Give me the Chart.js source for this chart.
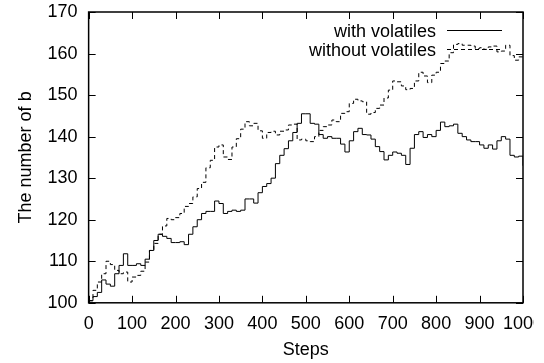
<!DOCTYPE html>
<html>
<head>
    <title>The number of b</title>
    <script src="https://cdn.jsdelivr.net/npm/chart.js"></script>
    <style>
        body { margin: 0; background: #fff; }
        #wrap { width: 534px; height: 363px; overflow: hidden; }
    </style>
</head>
<body>
    <div id="wrap">
        <canvas id="bChart" width="560" height="363"></canvas>
    </div>

    <script>
    // values, one every 10 steps
    const steps = [];
    for (let s = 0; s <= 1000; s += 10) steps.push(s);

    const withVolatiles = [
        100.5, 101.5, 102.5, 105.5, 104.5, 104, 107, 109, 111.8, 109,
        109, 109.4, 109, 110.5, 112.6, 115, 116.5, 116, 115.5, 114.5,
        114.5, 114.7, 114, 116.5, 118.3, 120, 121.5, 122, 122, 124.5,
        123.9, 121.5, 122, 122.3, 122, 122.3, 125, 125, 124, 126.5,
        128, 128.7, 130, 133.5, 135.5, 137.1, 139, 141, 143.2, 145.5,
        145.5, 143.2, 143, 140.5, 139.6, 140, 139.6, 139.6, 138.2, 136.3,
        139, 141.2, 142, 140.5, 140.4, 139.4, 137.6, 136.4, 134.4, 135.5,
        136.3, 136, 135.5, 133.3, 137.2, 140.5, 141.2, 139.8, 140.5, 140,
        141.5, 143.5, 142.4, 142.6, 143, 140.8, 140, 139.2, 138.8, 138.8,
        138, 137.2, 138, 137, 139, 140, 139.4, 135.5, 135.1, 135.3,
        133
    ];

    const withoutVolatiles = [
        100.5, 103, 105, 107, 110, 109.2, 107.8, 107, 107.4, 105,
        106.2, 106.6, 107.6, 109.8, 112.6, 114.3, 116.5, 118.5, 120.3, 120,
        120.5, 121.5, 123.2, 123.9, 125.5, 127.5, 129, 132.5, 134.3, 137.5,
        138, 135.1, 134.5, 137.5, 139.5, 141.8, 143.6, 142.6, 143.2, 141.4,
        139.6, 141, 141.3, 140.4, 141.3, 141.6, 142.8, 143, 139.2, 139.4,
        139, 138.8, 140, 141.5, 142.4, 142.8, 144, 143.6, 145.6, 146,
        148, 149, 148.6, 148.4, 145.4, 145.8, 146.8, 147.6, 149.3, 151.2,
        153.4, 153.2, 152.2, 151.3, 151.6, 153.4, 155.5, 154.6, 153, 154.8,
        155.5, 157.6, 158.2, 160.2, 162.2, 162.4, 162, 162, 161.8, 161.2,
        161.4, 161, 161.6, 161.8, 160.4, 160.6, 162, 159.5, 158.4, 159.2,
        159.2
    ];

    const FONT = { family: 'Liberation Sans, Arial, sans-serif', size: 18 };

    // gnuplot style frame: border plus inward ticks on all four sides
    const framePlugin = {
        id: 'frame',
        afterDatasetsDraw(chart) {
            const { ctx, chartArea: a, scales } = chart;
            const len = 7;
            ctx.save();
            ctx.strokeStyle = '#000';
            ctx.lineWidth = 1.5;
            ctx.strokeRect(a.left, a.top, a.right - a.left, a.bottom - a.top);
            ctx.lineWidth = 1;
            ctx.beginPath();
            scales.x.ticks.forEach(t => {
                const px = Math.round(scales.x.getPixelForValue(t.value)) + 0.5;
                ctx.moveTo(px, a.bottom); ctx.lineTo(px, a.bottom - len);
                ctx.moveTo(px, a.top); ctx.lineTo(px, a.top + len);
            });
            scales.y.ticks.forEach(t => {
                const py = Math.round(scales.y.getPixelForValue(t.value)) + 0.5;
                ctx.moveTo(a.left, py); ctx.lineTo(a.left + len, py);
                ctx.moveTo(a.right, py); ctx.lineTo(a.right - len, py);
            });
            ctx.stroke();
            ctx.restore();
        }
    };

    // key in the top right corner: label right aligned, line sample after it
    const keyPlugin = {
        id: 'key',
        afterDraw(chart) {
            const { ctx, chartArea: a } = chart;
            ctx.save();
            ctx.font = FONT.size + 'px ' + FONT.family;
            ctx.fillStyle = '#000';
            ctx.textAlign = 'right';
            ctx.textBaseline = 'alphabetic';
            chart.data.datasets.forEach((ds, i) => {
                const y = a.top + 18 + i * 19;
                ctx.fillText(ds.label, a.right - 87, y + 7);
                ctx.beginPath();
                ctx.setLineDash(ds.borderDash || []);
                ctx.lineWidth = 1;
                ctx.strokeStyle = '#000';
                ctx.moveTo(a.right - 76, y + 0.5);
                ctx.lineTo(a.right - 21, y + 0.5);
                ctx.stroke();
            });
            ctx.restore();
        }
    };

    const ctx = document.getElementById('bChart').getContext('2d');
    const chart = new Chart(ctx, {
        type: 'line',
        data: {
            datasets: [{
                label: 'with volatiles',
                data: steps.map((s, i) => ({ x: s, y: withVolatiles[i] })),
                borderColor: '#000',
                borderWidth: 1,
                stepped: true,
                pointRadius: 0,
                fill: false
            }, {
                label: 'without volatiles',
                data: steps.map((s, i) => ({ x: s, y: withoutVolatiles[i] })),
                borderColor: '#000',
                borderWidth: 1,
                borderDash: [4, 3],
                stepped: true,
                pointRadius: 0,
                fill: false
            }]
        },
        options: {
            responsive: false,
            animation: false,
            layout: { padding: { left: 0, right: 37, top: 12, bottom: 0 } },
            plugins: {
                legend: { display: false },
                tooltip: { enabled: false }
            },
            scales: {
                x: {
                    type: 'linear',
                    min: 0,
                    max: 1000,
                    grid: { display: false, drawTicks: false },
                    border: { display: false },
                    ticks: {
                        stepSize: 100, autoSkip: false, maxRotation: 0,
                        color: '#000', font: FONT, padding: 10.5,
                        callback: v => String(v)
                    },
                    title: { display: true, text: 'Steps', color: '#000', font: FONT, padding: { top: -6, bottom: 2 } }
                },
                y: {
                    min: 100,
                    max: 170,
                    grid: { display: false, drawTicks: false },
                    border: { display: false },
                    ticks: {
                        stepSize: 10, color: '#000', padding: 11,
                        font: Object.assign({}, FONT, { lineHeight: 0.1 }),
                        callback: v => String(v)
                    },
                    title: { display: true, text: 'The number of b', color: '#000', font: FONT, padding: { top: 15, bottom: 0 } }
                }
            }
        },
        plugins: [framePlugin, keyPlugin]
    });
    </script>
</body>
</html>
